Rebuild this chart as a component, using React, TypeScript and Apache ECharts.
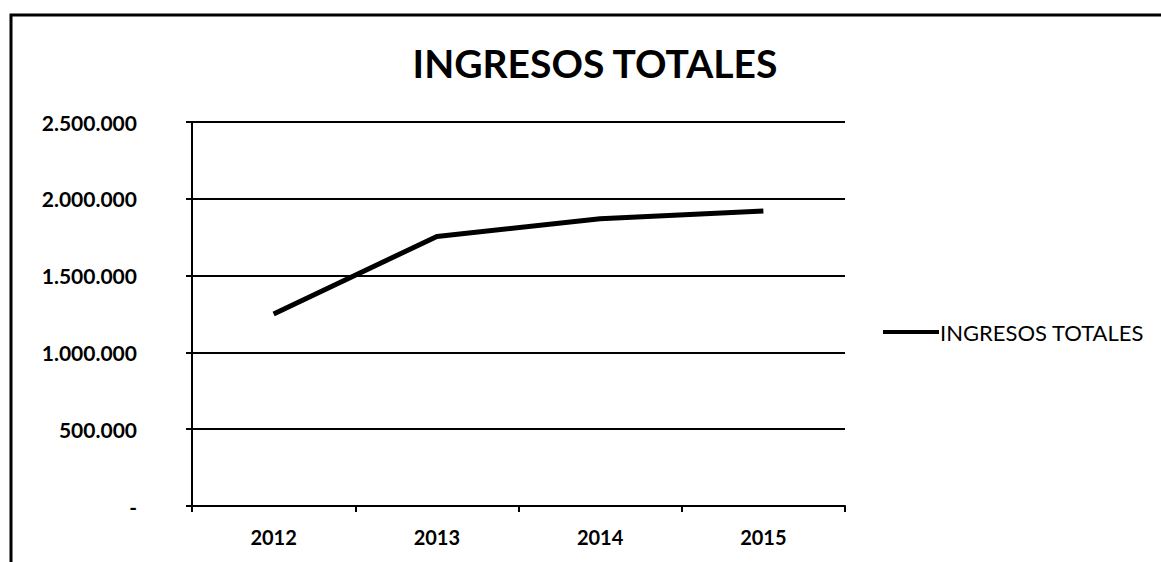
import React, { useEffect, useRef } from "react";
import * as echarts from "echarts";

const categories = ["2012", "2013", "2014", "2015"];
const ingresosTotales = [1250000, 1755000, 1870000, 1920000];
const seriesName = "INGRESOS TOTALES";
const titleText = "INGRESOS TOTALES";

function fmt(v: number): string {
  if (v === 0) return "-";
  return String(v).replace(/\B(?=(\d{3})+(?!\d))/g, ".");
}

export default function App() {
  const ref = useRef<HTMLDivElement>(null);
  useEffect(() => {
    document.body.style.margin = "0";
    const chart = echarts.init(ref.current!, null, { renderer: "svg" });
    chart.setOption({
      animation: false,
      backgroundColor: "#ffffff",
      title: {
        text: titleText,
        left: 590,
        top: 38,
        textAlign: "center",
        textStyle: { fontFamily: "Lato", fontWeight: "bold", fontSize: 39, color: "#000" },
      },
      legend: {
        data: [seriesName],
        left: 878,
        top: 316,
        itemWidth: 56,
        itemHeight: 4,
        itemGap: 4,
        icon: "rect",
        textStyle: { fontFamily: "Lato", fontSize: 22, color: "#000", padding: [0, 0, 0, -4] },
      },
      grid: { left: 192, right: 316, top: 122, bottom: 56, containLabel: false },
      xAxis: {
        type: "category",
        data: categories,
        boundaryGap: true,
        axisLine: { lineStyle: { color: "#000", width: 2 } },
        axisTick: { show: true, length: 6, lineStyle: { color: "#000", width: 2 } },
        axisLabel: { fontFamily: "Lato", fontWeight: "bold", fontSize: 20, color: "#000", margin: 21 },
      },
      yAxis: {
        type: "value",
        min: 0,
        max: 2500000,
        interval: 500000,
        axisLine: { show: true, lineStyle: { color: "#000", width: 2 } },
        axisTick: { show: true, length: 6, lineStyle: { color: "#000", width: 2 } },
        axisLabel: {
          fontFamily: "Lato",
          fontWeight: "bold",
          fontSize: 21,
          color: "#000",
          margin: 55,
          formatter: (v: number) => fmt(v),
        },
        splitLine: { show: true, lineStyle: { color: "#000", width: 2 } },
      },
      series: [
        {
          name: seriesName,
          type: "line",
          data: ingresosTotales,
          showSymbol: false,
          symbol: "none",
          lineStyle: { color: "#000", width: 5 },
          itemStyle: { color: "#000" },
        },
      ],
      graphic: [
        {
          type: "polyline",
          shape: { points: [[11, 562], [11, 15], [1161, 15]] },
          style: { stroke: "#000", lineWidth: 3, fill: "none" },
          silent: true,
        },
      ],
    });
    return () => chart.dispose();
  }, []);
  return <div ref={ref} style={{ width: 1161, height: 562 }} />;
}
